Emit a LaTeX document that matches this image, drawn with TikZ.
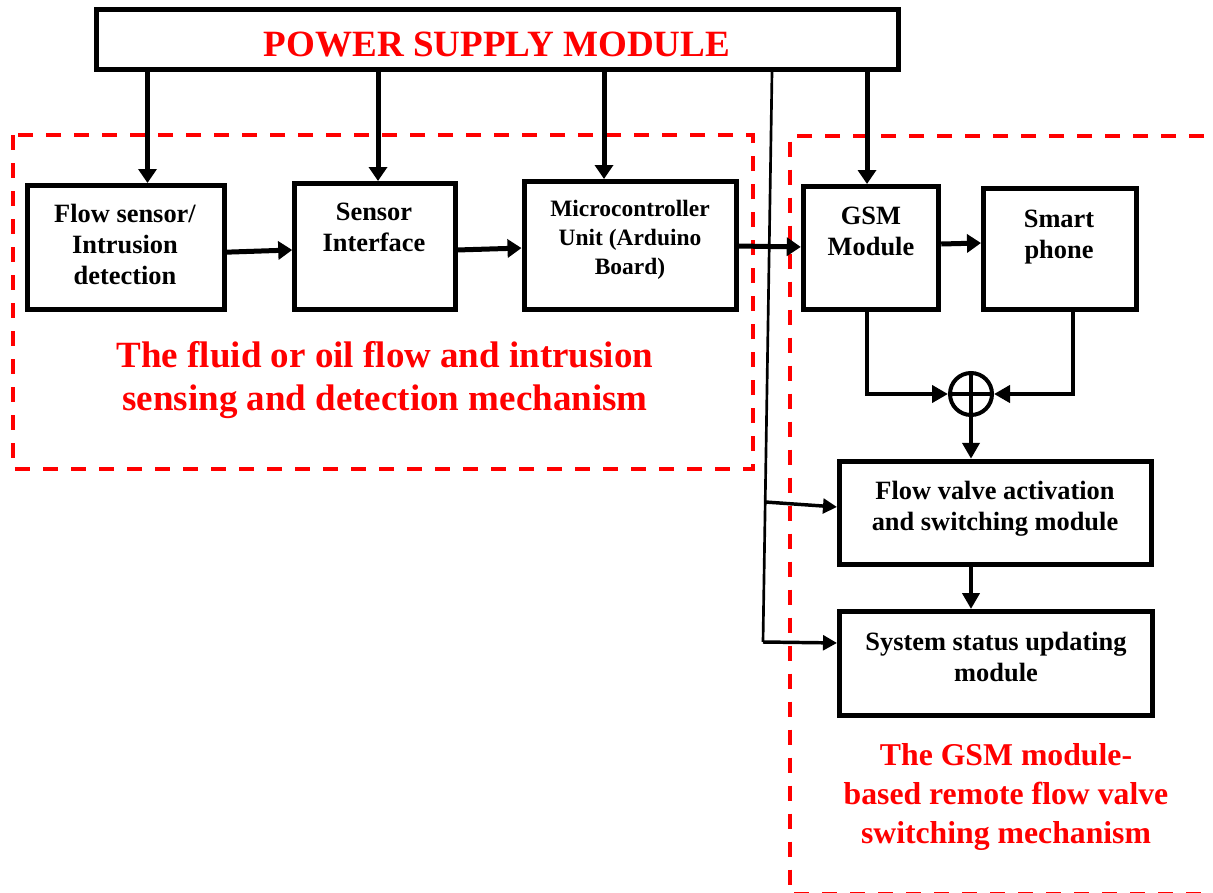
\documentclass[tikz,border=0pt]{standalone}
\usepackage{fontspec}
\setmainfont{Liberation Serif}
\usetikzlibrary{arrows.meta}

\begin{document}
\begin{tikzpicture}[x=0.75pt, y=-0.75pt,
  block/.style={draw, line width=3.75pt, inner sep=0pt},
  txt/.style={font=\bfseries\fontsize{19.8}{23.6}\selectfont, align=center},
  txtsmall/.style={font=\bfseries\fontsize{17.6}{21.75}\selectfont, align=center},
  zonetitle/.style={red, align=center, font=\bfseries\fontsize{27.75}{32.25}\selectfont},
  zone/.style={red, line width=3pt, dash pattern=on 11.6pt off 9.4pt},
  feeds/.style={-{Triangle[length=10.5pt, width=13.5pt]}, line width=3.75pt},
  joins/.style={-{Triangle[length=12pt, width=12.75pt]}, line width=3.5pt},
  busline/.style={line width=2pt},
  taps/.style={-{Triangle[length=10.5pt, width=11pt]}, line width=2.6pt}
]
  \clip (0,0) rectangle (1213,892);

  \draw[zone] (13,135) rectangle (753,469);
  \draw[zone] (1260,135.5) -- (790,135.5) -- (790,893.5) -- (1260,893.5);

  \node[block, minimum width=601.5pt, minimum height=45pt] (pwr) at (497,40) {};
  \node[red, font=\bfseries\fontsize{27.8}{33}\selectfont] (pwr-txt) at (497,44.5) {POWER SUPPLY MODULE};

  \node[block, minimum width=147.75pt, minimum height=93pt] (fs) at (125.5,247.5) {};
  \node[block, minimum width=120.4pt, minimum height=94.5pt] (si) at (375,246.5) {};
  \node[block, minimum width=159pt, minimum height=96pt] (mc) at (630,245.5) {};
  \node[block, minimum width=101.6pt, minimum height=92.25pt] (gsm) at (871,248) {};
  \node[block, minimum width=114.75pt, minimum height=90.4pt] (ph) at (1060,249) {};
  \node[block, minimum width=234pt, minimum height=77.6pt] (fv) at (995.5,513) {};
  \node[block, minimum width=234.75pt, minimum height=78pt] (ss) at (996,663.5) {};
  \node[draw, circle, line width=3pt, minimum size=31.5pt, inner sep=0pt] (sum) at (971,394) {};
  \draw[line width=3pt] (sum.north) -- (sum.south) (sum.west) -- (sum.east);

  \node[txt] (fs-txt) at (125,244.5) {Flow sensor/\\Intrusion\\detection};
  \node[txt] (si-txt) at (374,227.5) {Sensor\\Interface};
  \node[txtsmall] (mc-txt) at (630,239.5) {Microcontroller\\Unit (Arduino\\Board)};
  \node[txt] (gsm-txt) at (871,231.5) {GSM\\Module};
  \node[txt] (ph-txt) at (1059,237) {Smart\\phone};
  \node[txt] (fv-txt) at (995,508.5) {Flow valve activation\\and switching module};
  \node[txt] (ss-txt) at (996,657) {System status updating\\module};

  \node[zonetitle] (sense-txt) at (385,380.5) {The fluid or oil flow and intrusion\\sensing and detection mechanism};
  \node[zonetitle, font=\bfseries\fontsize{23.8}{28.9}\selectfont] (gsm-zone-txt) at (1006,797) {The GSM module-\\based remote flow valve\\switching mechanism};

  \draw[feeds] ([xshift=16.5pt]fs.north |- pwr.south) -- ([xshift=16.5pt]fs.north);
  \draw[feeds] ([xshift=2.25pt]si.north |- pwr.south) -- ([xshift=2.25pt]si.north);
  \draw[feeds] ([xshift=-19.5pt]mc.north |- pwr.south) -- ([xshift=-19.5pt]mc.north);
  \draw[feeds] ([xshift=-3pt]gsm.north |- pwr.south) -- ([xshift=-3pt]gsm.north);

  \draw[feeds] ([yshift=-3.5pt]fs.east) -- ([yshift=-2.6pt]si.west);
  \draw[feeds] ([yshift=-2.6pt]si.east) -- ([yshift=-1.9pt]mc.west);
  \draw[feeds] ([yshift=-0.4pt]mc.east) -- ([yshift=0.8pt]gsm.west);
  \draw[feeds] ([yshift=3pt]gsm.east) -- ([yshift=4.5pt]ph.west);

  \draw[joins] ([xshift=-3pt]gsm.south) |- (sum.west);
  \draw[joins] ([xshift=9.75pt]ph.south) |- (sum.east);
  \draw[joins] (sum.south) -- (sum.south |- fv.north);
  \draw[joins] (fv.south -| sum) -- (ss.north -| sum);

  \coordinate (bus-top) at (772,72);
  \coordinate (bus-mid) at (765.2,502);
  \coordinate (bus-end) at (763,642);
  \draw[busline] (bus-top) -- (bus-end);
  \draw[taps] (bus-mid) -- ([yshift=4.5pt]fv.west);
  \draw[taps] (bus-end) -- ([yshift=15.4pt]ss.west);
\end{tikzpicture}
\end{document}
